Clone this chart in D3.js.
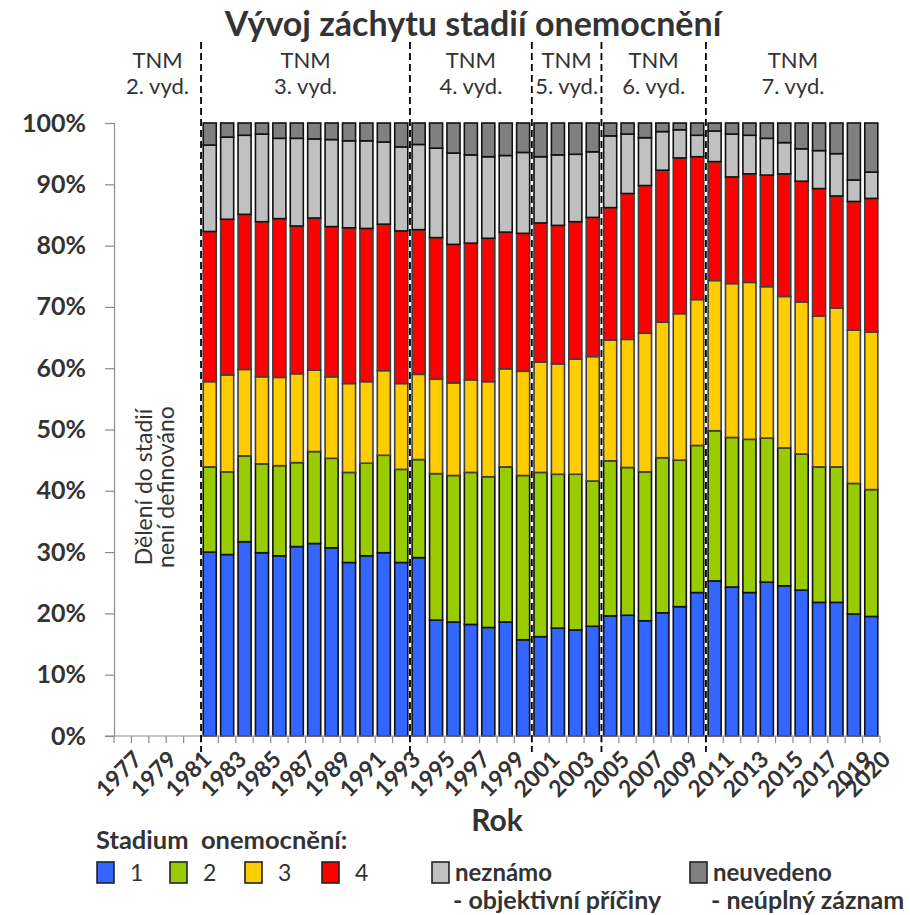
<!DOCTYPE html>
<html>
<head>
<meta charset="utf-8">
<script src="https://cdn.jsdelivr.net/npm/d3@7"></script>
<style>
  body { margin: 0; background: #fff; }
  text { font-family: Lato, "Open Sans", sans-serif; }
</style>
</head>
<body>
<div id="svg-container" style="width:910px;height:915px;"></div>
<script>
var width = 910, height = 915;

// data (percent of cases per year)
var years = d3.range(1977, 2021);
var dataYears = d3.range(1982, 2021);
var stage1 = [30.0,29.6,31.7,29.9,29.4,30.9,31.4,30.7,28.3,29.4,29.9,28.3,29.1,18.9,18.6,18.2,17.7,18.6,15.7,16.2,17.6,17.3,17.9,19.6,19.7,18.8,20.1,21.1,23.4,25.3,24.3,23.4,25.1,24.5,23.8,21.8,21.8,19.9,19.5];
var stage2 = [13.9,13.5,14.0,14.5,14.7,13.7,15.0,14.6,14.7,15.1,15.9,15.2,16.0,23.9,23.9,24.8,24.6,25.3,26.8,26.8,25.1,25.4,23.7,25.3,24.1,24.3,25.3,23.9,24.0,24.5,24.4,25.0,23.5,22.5,22.2,22.1,22.1,21.3,20.7];
var stage3 = [13.9,15.8,14.1,14.2,14.4,14.5,13.3,13.3,14.5,13.3,13.8,14.0,13.9,15.4,15.1,15.1,15.5,16.0,17.0,18.0,18.0,18.8,20.3,19.7,20.9,22.6,22.1,23.9,23.8,24.5,25.1,25.6,24.7,24.7,24.8,24.6,25.9,25.0,25.7];
var stage4 = [24.5,25.4,25.3,25.3,25.9,24.1,24.8,24.5,25.4,25.0,23.9,24.9,23.6,23.1,22.6,22.3,23.4,22.3,22.5,22.7,22.6,22.4,22.7,21.6,23.8,24.1,24.8,25.4,23.3,19.4,17.4,17.7,18.2,20.0,19.7,20.8,18.3,21.0,21.8];
var unknown = [14.1,13.4,12.9,14.3,13.1,14.3,12.9,14.2,14.2,14.3,13.4,13.7,13.9,14.6,14.9,14.4,13.3,12.5,13.2,10.8,11.5,11.0,10.7,11.7,9.7,7.8,6.3,4.6,3.5,5.0,7.0,6.3,6.0,5.1,5.3,6.2,6.9,3.5,4.3];
var notStated = [3.6,2.3,2.0,1.8,2.5,2.5,2.6,2.7,2.9,2.9,3.1,3.9,3.5,4.1,4.9,5.2,5.5,5.3,4.8,5.5,5.2,5.1,4.7,2.1,1.8,2.4,1.4,1.1,2.0,1.3,1.8,2.0,2.5,3.2,4.2,4.5,5.0,9.3,8.0];

var seriesKeys = ["s1", "s2", "s3", "s4", "unk", "ns"];
var seriesColors = ["#3366ff", "#99cc00", "#ffcc00", "#ff0000", "#c0c0c0", "#808080"];
var seriesStroke = ["#111", "#111", "#404040", "#404040", "#111", "#111"];

// TNM editions
var editions = [
  { label: "2. vyd.", from: 1977, to: 1981 },
  { label: "3. vyd.", from: 1982, to: 1993 },
  { label: "4. vyd.", from: 1994, to: 2000 },
  { label: "5. vyd.", from: 2001, to: 2004 },
  { label: "6. vyd.", from: 2005, to: 2010 },
  { label: "7. vyd.", from: 2011, to: 2020 }
];

var yTicks = d3.range(0, 1.01, 0.1);
var xLabels = years.filter(function(y) { return (y - 1977) % 2 === 0 || y === 2020; });

var table = dataYears.map(function(y, i) {
  return { year: y, s1: stage1[i], s2: stage2[i], s3: stage3[i], s4: stage4[i], unk: unknown[i], ns: notStated[i] };
});

var margin = { top: 123, right: 30, bottom: 179, left: 114 };

var svg = d3.select("#svg-container")
            .append("svg")
            .attr("width", width)
            .attr("height", height);

var scaleX = d3.scaleBand()
               .domain(years)
               .range([margin.left, width - margin.right])
               .paddingInner(0.25)
               .paddingOuter(0.125);

var scaleY = d3.scaleLinear()
               .domain([0, 1])
               .range([height - margin.bottom, margin.top]);

var step = scaleX.step();
var x0 = margin.left;
function edge(year) { return x0 + (year - 1977) * step; }

var stack = d3.stack().keys(seriesKeys).offset(d3.stackOffsetExpand);
var layers = stack(table);

// bars
svg.append("g")
   .selectAll("g")
   .data(layers)
   .join("g")
   .attr("fill", function(d, i) { return seriesColors[i]; })
   .attr("stroke", function(d, i) { return seriesStroke[i]; })
   .attr("stroke-width", 1.6)
   .selectAll("rect")
   .data(function(d) { return d; })
   .join("rect")
   .attr("x", function(d) { return scaleX(d.data.year); })
   .attr("width", scaleX.bandwidth())
   .attr("y", function(d) { return scaleY(d[1]); })
   .attr("height", function(d) { return scaleY(d[0]) - scaleY(d[1]); });

// y axis
var yAxis = svg.append("g")
   .attr("transform", "translate(" + margin.left + ",0)")
   .call(d3.axisLeft(scaleY).tickValues(yTicks).tickFormat(d3.format(".0%")).tickSizeOuter(0).tickSize(9).tickPadding(19));
yAxis.select(".domain").attr("stroke", "#8c8c8c").attr("stroke-width", 1.2);
yAxis.selectAll(".tick line").attr("stroke", "#8c8c8c").attr("stroke-width", 1.2);
yAxis.selectAll(".tick text")
     .attr("font-size", 25)
     .attr("font-weight", "bold")
     .attr("fill", "#333");

// x axis line and ticks at category edges
var baseY = scaleY(0);
svg.append("line")
   .attr("x1", margin.left - 9).attr("x2", edge(2021))
   .attr("y1", baseY).attr("y2", baseY)
   .attr("stroke", "#8c8c8c").attr("stroke-width", 1.2);
svg.append("g")
   .selectAll("line")
   .data(d3.range(1977, 2022))
   .join("line")
   .attr("x1", function(d) { return edge(d); })
   .attr("x2", function(d) { return edge(d); })
   .attr("y1", baseY).attr("y2", baseY + 7)
   .attr("stroke", "#8c8c8c").attr("stroke-width", 1.2);

// x labels
svg.append("g")
   .selectAll("text")
   .data(xLabels)
   .join("text")
   .attr("transform", function(d) {
     return "translate(" + (scaleX(d) + scaleX.bandwidth() / 2 + 9) + "," + (baseY + 13) + ") rotate(-45)";
   })
   .attr("text-anchor", "end")
   .attr("dy", "0.72em")
   .attr("font-size", 23)
   .attr("font-weight", "bold")
   .attr("fill", "#333")
   .text(function(d) { return d; });

// edition separators
svg.append("g")
   .selectAll("line")
   .data(editions.slice(1))
   .join("line")
   .attr("x1", function(d) { return edge(d.from); })
   .attr("x2", function(d) { return edge(d.from); })
   .attr("y1", 42).attr("y2", baseY + 16)
   .attr("stroke", "#000").attr("stroke-width", 1.8)
   .attr("stroke-dasharray", "7,4");

// edition labels
var edLab = svg.append("g")
   .selectAll("text")
   .data(editions)
   .join("text")
   .attr("text-anchor", "middle")
   .attr("font-size", 22)
   .attr("fill", "#333");
edLab.append("tspan")
   .attr("x", function(d) { return (edge(d.from) + edge(d.to + 1)) / 2; })
   .attr("y", 68)
   .text("TNM");
edLab.append("tspan")
   .attr("x", function(d) { return (edge(d.from) + edge(d.to + 1)) / 2; })
   .attr("y", 94)
   .text(function(d) { return d.label; });

// note in empty period
var note = svg.append("text")
   .attr("transform", "translate(" + ((edge(1977) + edge(1982)) / 2) + ",487) rotate(-90)")
   .attr("text-anchor", "middle")
   .attr("font-size", 23)
   .attr("fill", "#333");
note.append("tspan").attr("x", 0).attr("y", -6).text("Dělení do stadií");
note.append("tspan").attr("x", 0).attr("y", 16).text("není definováno");

// title
svg.append("text")
   .attr("x", 473).attr("y", 36)
   .attr("text-anchor", "middle")
   .attr("font-size", 34)
   .attr("font-weight", "bold")
   .attr("fill", "#333")
   .text("Vývoj záchytu stadií onemocnění");

// axis title
svg.append("text")
   .attr("x", 497).attr("y", 831)
   .attr("text-anchor", "middle")
   .attr("font-size", 30)
   .attr("font-weight", "bold")
   .attr("fill", "#333")
   .text("Rok");

// legend
svg.append("text")
   .attr("x", 96).attr("y", 849)
   .attr("font-size", 25.5)
   .attr("font-weight", "bold")
   .attr("fill", "#333")
   .attr("xml:space", "preserve")
   .text("Stadium  onemocnění:");

var legendItems = [
  { i: 0, x: 97, lines: ["1"], bold: false },
  { i: 1, x: 170, lines: ["2"], bold: false },
  { i: 2, x: 245, lines: ["3"], bold: false },
  { i: 3, x: 322, lines: ["4"], bold: false },
  { i: 4, x: 432, lines: ["neznámo", "- objektivní příčiny"], bold: true },
  { i: 5, x: 690, lines: ["neuvedeno", "- neúplný záznam"], bold: true }
];

var leg = svg.append("g")
   .selectAll("g")
   .data(legendItems)
   .join("g")
   .attr("transform", function(d) { return "translate(" + d.x + ",862)"; });
leg.append("rect")
   .attr("width", 17).attr("height", 21)
   .attr("fill", function(d) { return seriesColors[d.i]; })
   .attr("stroke", "#222").attr("stroke-width", 1.6);
leg.each(function(d) {
  var g = d3.select(this);
  d.lines.forEach(function(t, k) {
    g.append("text")
     .attr("x", d.bold ? (k === 0 ? 23 : 21) : 33)
     .attr("y", 19 + k * 28)
     .attr("font-size", d.bold ? (k === 0 ? 24 : 25) : 23)
     .attr("font-weight", d.bold ? "bold" : "normal")
     .attr("fill", "#333")
     .text(t);
  });
});
</script>
</body>
</html>
